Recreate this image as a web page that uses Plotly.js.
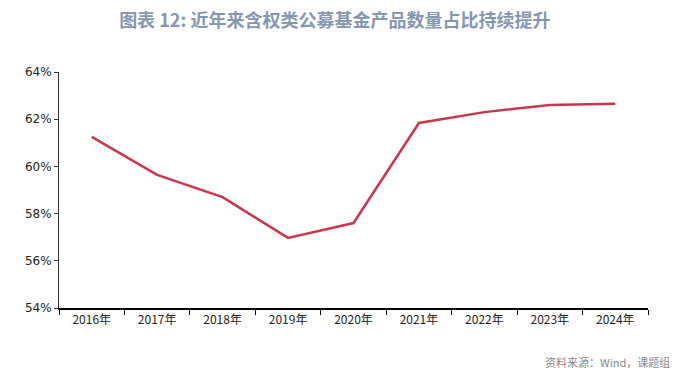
<!DOCTYPE html>
<html>
<head>
<meta charset="utf-8">
<script src="https://cdn.plot.ly/plotly-3.0.1.min.js"></script>
<style>html,body{margin:0;padding:0;background:#fff;}#chart{width:686px;height:375px;}</style>
</head>
<body>
<div id="chart"></div>
<script>
const years = ["2016年","2017年","2018年","2019年","2020年","2021年","2022年","2023年","2024年"];
const shareValues = [61.25, 59.64, 58.70, 56.97, 57.60, 61.84, 62.30, 62.60, 62.65];
const yTickVals = [54, 56, 58, 60, 62, 64];
const yTickText = ["54%","56%","58%","60%","62%","64%"];

const trace = {
  x: years,
  y: shareValues,
  type: "scatter",
  mode: "lines",
  line: {color: "#C8384C", width: 2.5},
  hoverinfo: "skip"
};

const layout = {
  width: 686, height: 375,
  margin: {l: 59, r: 38, t: 72, b: 67},
  paper_bgcolor: "#fff", plot_bgcolor: "#fff",
  showlegend: false,
  font: {family: "Noto Sans CJK SC, sans-serif", color: "#333"},
  title: {
    text: "<b>图表 12: 近年来含权类公募基金产品数量占比持续提升</b>",
    font: {family: "Noto Sans CJK SC, sans-serif", size: 18, color: "#8497B0"},
    x: 0.488, xref: "container", xanchor: "center",
    y: 0.945, yref: "container", yanchor: "middle"
  },
  xaxis: {
    type: "category",
    range: [-0.5, 8.5],
    showline: true, linecolor: "#000", linewidth: 2,
    ticks: "outside", ticklen: 5, tickcolor: "#000", tickwidth: 1,
    tickson: "boundaries",
    showgrid: false, zeroline: false,
    tickfont: {family: "Noto Sans CJK SC, serif", size: 12, color: "#222"}
  },
  yaxis: {
    range: [54, 64],
    tickvals: yTickVals, ticktext: yTickText,
    showline: true, linecolor: "#333", linewidth: 1,
    ticks: "outside", ticklen: 4, tickcolor: "#333",
    showgrid: false, zeroline: false,
    tickfont: {family: "DejaVu Sans, sans-serif", size: 12, color: "#222"}
  },
  annotations: [{
    text: "资料来源：Wind，课题组",
    xref: "paper", yref: "paper",
    x: 1.041, y: -0.228, xanchor: "right", yanchor: "middle",
    showarrow: false,
    font: {family: "Noto Sans CJK SC, sans-serif", size: 11, color: "#888"}
  }]
};

Plotly.newPlot("chart", [trace], layout, {displayModeBar: false, staticPlot: true});
</script>
</body>
</html>
